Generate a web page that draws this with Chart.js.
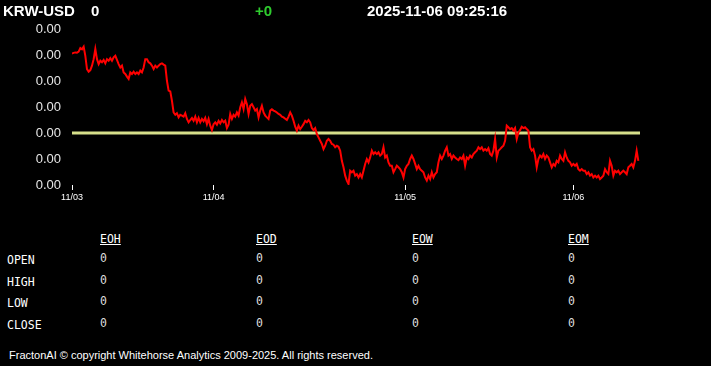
<!DOCTYPE html>
<html>
<head>
<meta charset="utf-8">
<script src="https://cdn.jsdelivr.net/npm/chart.js@4/dist/chart.umd.min.js"></script>
<style>
  body { margin: 0; background: #000; width: 711px; height: 366px; overflow: hidden; position: relative; color: #fff; }
  .t { position: absolute; white-space: nowrap; line-height: 1; }
  .hdr { font: bold 15px "Liberation Sans", Arial, sans-serif; top: 2px; }
  .mono { font: 11.5px "DejaVu Sans Mono", monospace; }
  #chartBox { position: absolute; left: 0; top: 0; }
</style>
</head>
<body>
<div id="chartBox"><canvas id="chart" width="711" height="210"></canvas></div>
<div class="t hdr" style="left:3px">KRW-USD</div>
<div class="t hdr" style="left:91px">0</div>
<div class="t hdr" style="left:255px;color:#2ecc2e">+0</div>
<div class="t hdr" style="left:367px">2025-11-06 09:25:16</div>
<div id="table"></div>
<div class="t" style="left:9px;top:349px;font:11px 'Liberation Sans', Arial, sans-serif">FractonAI © copyright Whitehorse Analytics 2009-2025. All rights reserved.</div>
<script>
// KRW-USD price in micro-USD (x 1e-6), one point per sample from 11/03 to 11/06
const closeMicroUsd = [
  691.06, 691.08, 691.10, 691.09, 691.13, 691.27, 691.22, 691.32, 690.97, 690.46,
  690.36, 690.42, 690.59, 690.84, 691.23, 690.84, 690.65, 690.78, 690.72, 690.81,
  690.68, 690.84, 690.78, 690.88, 690.78, 690.91, 690.97, 690.81, 690.65, 690.52,
  690.59, 690.33, 690.27, 690.17, 690.08, 690.33, 690.27, 690.36, 690.27, 690.33,
  690.27, 690.40, 690.33, 690.52, 690.84, 690.84, 690.72, 690.68, 690.59, 690.46,
  690.59, 690.52, 690.59,
  690.65, 690.68, 690.63, 690.59, 690.01, 689.63, 689.60, 689.24, 688.79, 688.70,
  688.76, 688.60, 688.70, 688.67, 688.63, 688.76, 688.54, 688.41, 688.50, 688.58,
  688.47, 688.63, 688.41, 688.58, 688.41, 688.54, 688.45, 688.58, 688.34, 688.54,
  688.28, 688.11, 688.34, 688.41, 688.32, 688.47, 688.37, 688.50, 688.41, 688.47,
  688.19, 688.32, 688.73, 688.54, 688.70, 688.63, 688.79, 688.67, 688.99, 689.18,
  688.92, 689.31, 689.11, 688.73, 689.05, 689.11, 688.99,
  688.86, 688.92, 688.60, 688.86, 689.05, 688.79, 688.67, 688.60, 688.54, 688.86,
  688.91, 688.86, 688.83, 688.79, 688.73, 688.70, 688.63, 688.60, 688.55, 688.50,
  688.63, 688.79, 688.67, 688.47, 688.24, 688.09, 688.28, 688.15, 688.24, 688.34,
  688.47, 688.41, 688.50, 688.41, 688.19, 688.11, 688.19, 687.96, 687.83, 687.70,
  687.58, 687.38, 687.51, 687.70, 687.77, 687.70, 687.58, 687.55, 687.45, 687.51,
  687.47, 687.32, 686.93, 686.68, 686.36, 686.17, 686.04,
  686.55, 686.49, 686.55, 686.36, 686.42, 686.29, 686.42, 686.29, 686.55, 686.81,
  687.00, 686.87, 687.06, 687.32, 687.19, 687.26, 687.19, 687.26, 687.13, 687.19,
  687.45, 687.06, 687.13, 686.87, 686.74, 686.74, 686.49, 686.61, 686.74, 686.68,
  686.61, 686.49, 686.29, 686.61, 686.74, 686.81, 687.00, 687.13, 687.00, 686.81,
  686.61, 686.74, 686.61, 686.55, 686.49, 686.29, 686.17, 686.36, 686.23, 686.49,
  686.29, 686.42, 686.49, 686.87, 687.13, 687.00, 687.13,
  687.32, 687.45, 687.13, 687.19, 687.00, 687.13, 687.06, 687.00, 686.96, 687.06,
  687.00, 687.13, 686.74, 687.06, 687.00, 687.13, 687.06, 687.19, 687.26, 687.32,
  687.45, 687.38, 687.45, 687.32, 687.38, 687.32, 687.42, 687.19, 687.13, 687.32,
  687.77, 687.06, 687.32, 687.38, 687.45, 687.51, 687.70, 688.28, 688.22, 688.15,
  688.19, 688.09, 688.19, 687.77, 688.02, 688.11, 688.24, 688.19, 688.22, 688.15,
  688.09, 687.45, 687.32, 687.38, 687.13, 686.68, 687.00,
  687.13, 687.06, 687.19, 687.00, 687.13, 687.06, 686.87, 686.68, 686.81, 686.74,
  686.93, 686.87, 687.13, 687.00, 686.93, 687.26, 687.06, 686.93, 686.87, 686.74,
  686.81, 686.74, 686.81, 686.61, 686.55, 686.61, 686.55, 686.55, 686.42, 686.49,
  686.36, 686.42, 686.29, 686.36, 686.29, 686.36, 686.23, 686.29, 686.36, 686.61,
  686.49, 686.42, 686.93, 686.74, 686.36, 686.55, 686.49, 686.55, 686.42, 686.49,
  686.55, 686.49, 686.42, 686.68, 686.74, 686.81, 686.68, 686.93, 687.32, 686.93,
];
const prevCloseMicroUsd = 688;

// sample index where each day starts, and its label
const dayStartIdx = [0, 85, 200, 301];
const dayLabels = ['11/03', '11/04', '11/05', '11/06'];

const colHeaders = ['EOH', 'EOD', 'EOW', 'EOM'];
const rowLabels = ['OPEN', 'HIGH', 'LOW', 'CLOSE'];
const ohlcValues = [
  [0, 0, 0, 0],
  [0, 0, 0, 0],
  [0, 0, 0, 0],
  [0, 0, 0, 0],
];

const lastIdx = closeMicroUsd.length; // one slot past the last sample

new Chart(document.getElementById('chart'), {
  type: 'line',
  data: {
    datasets: [{
      label: 'KRW-USD',
      data: closeMicroUsd.map((v, i) => ({ x: i, y: v })),
      borderColor: '#ff0000',
      borderWidth: 2,
      pointRadius: 0,
      tension: 0,
    }, {
      label: 'prev close',
      data: [{ x: 0, y: prevCloseMicroUsd }, { x: lastIdx, y: prevCloseMicroUsd }],
      borderColor: '#d6df8a',
      borderWidth: 3,
      pointRadius: 0,
    }],
  },
  options: {
    responsive: false,
    animation: false,
    layout: { padding: { top: 29, right: 71, bottom: 0, left: 0 } },
    plugins: { legend: { display: false }, tooltip: { enabled: false } },
    scales: {
      x: {
        type: 'linear',
        min: 0,
        max: lastIdx,
        afterBuildTicks: (scale) => { scale.ticks = dayStartIdx.map(v => ({ value: v })); },
        afterFit: (scale) => { scale.height = 25; },
        border: { display: false },
        grid: { drawOnChartArea: false, drawTicks: true, tickLength: 5, color: '#ffffff' },
        ticks: {
          autoSkip: false,
          maxRotation: 0,
          padding: 2,
          color: '#ffffff',
          font: { family: 'Liberation Sans', size: 9 },
          callback: (v, i) => dayLabels[i],
        },
      },
      y: {
        min: 686,
        max: 692,
        afterFit: (scale) => { scale.width = 72; },
        border: { display: false },
        grid: { display: false, drawTicks: false },
        ticks: {
          stepSize: 1,
          padding: 11,
          color: '#e6e6e6',
          font: { family: 'Liberation Sans', size: 13 },
          callback: (v) => (v / 1e6).toFixed(2),
        },
      },
    },
  },
});

// OHLC table under the chart
const table = document.getElementById('table');
const colX = [100, 256, 412, 568];
const rowY = [251, 273, 294, 316];
const addText = (txt, x, y, extra) => {
  const d = document.createElement('div');
  d.className = 't mono';
  d.style.left = x + 'px';
  d.style.top = y + 'px';
  if (extra) Object.assign(d.style, extra);
  d.textContent = txt;
  table.appendChild(d);
};
colHeaders.forEach((h, c) => addText(h, colX[c], 232, { textDecoration: 'underline' }));
rowLabels.forEach((r, i) => {
  addText(r, 7, rowY[i] + 2);
  ohlcValues[i].forEach((v, c) => addText(String(v), colX[c], rowY[i], { color: '#dddddd' }));
});
</script>
</body>
</html>
